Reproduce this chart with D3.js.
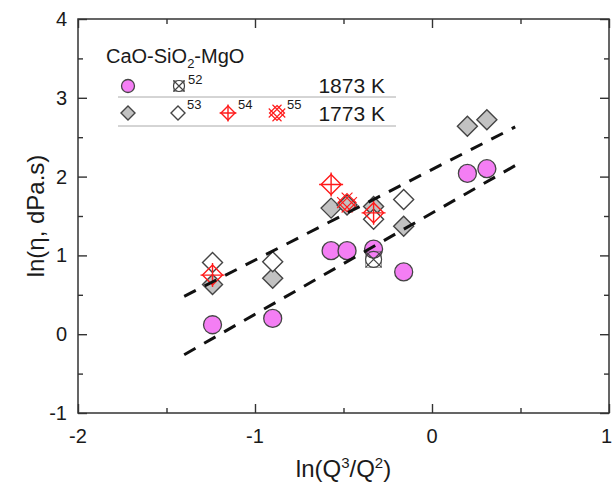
<script src="https://cdnjs.cloudflare.com/ajax/libs/d3/7.8.5/d3.min.js"></script>
<body style="margin:0;background:#fff">
<style>
  body { font-family: "Liberation Sans", Arial, Helvetica, sans-serif; }
  text { fill: #1a1a1a; }
</style>
<div id="chart"></div>
<script>
// data
var circ1873X = [-1.24, -0.90, -0.57, -0.48, -0.33, -0.16, 0.20, 0.31];
var circ1873Y = [0.12, 0.20, 1.06, 1.06, 1.08, 0.79, 2.04, 2.10];
var dia1773X = [-1.24, -0.90, -0.57, -0.48, -0.33, -0.16, 0.20, 0.31];
var dia1773Y = [0.63, 0.71, 1.60, 1.64, 1.62, 1.37, 2.64, 2.72];
var ref52X = [-0.33];
var ref52Y = [0.95];
var ref53X = [-1.24, -0.90, -0.33, -0.16];
var ref53Y = [0.91, 0.92, 1.46, 1.71];
var ref54X = [-1.24, -0.57, -0.33];
var ref54Y = [0.75, 1.90, 1.54];
var ref55X = [-0.48];
var ref55Y = [1.67];
var fitUpper = [[-1.40, 0.48], [0.47, 2.63]];
var fitLower = [[-1.40, -0.26], [0.47, 2.14]];
var xTicks = [-2, -1, 0, 1];
var yTicks = [-1, 0, 1, 2, 3, 4];

var W = 612, H = 491;
var margin = {top: 19, right: 3, bottom: 78, left: 78};
var width = W - margin.left - margin.right,
    height = H - margin.top - margin.bottom;

var svg = d3.select("#chart").append("svg")
    .attr("width", W).attr("height", H);
var g = svg.append("g")
    .attr("transform", "translate(" + margin.left + "," + margin.top + ")");

var x = d3.scaleLinear().domain([-2, 1]).range([0, width]);
var y = d3.scaleLinear().domain([-1, 4]).range([height, 0]);

var axisColor = "#333";

// frame with inward ticks on all four sides
function tickSide(axisFn, scale, ticks, minor, transform) {
  var a = g.append("g").attr("transform", transform);
  a.call(axisFn(scale).tickValues(minor).tickSize(-5).tickFormat(""));
  a.select(".domain").remove();
  var b = g.append("g").attr("transform", transform);
  b.call(axisFn(scale).tickValues(ticks).tickSize(-9).tickFormat(""));
  b.select(".domain").remove();
  g.selectAll(".tick line").attr("stroke", axisColor).attr("stroke-width", 1.4);
}
var xMinor = [-1.5, -0.5, 0.5];
var yMinor = [-0.5, 0.5, 1.5, 2.5, 3.5];
tickSide(d3.axisBottom, x, xTicks, xMinor, "translate(0," + height + ")");
tickSide(d3.axisTop, x, xTicks, xMinor, "translate(0,0)");
tickSide(d3.axisLeft, y, yTicks, yMinor, "translate(0,0)");
tickSide(d3.axisRight, y, yTicks, yMinor, "translate(" + width + ",0)");

g.append("rect")
  .attr("width", width).attr("height", height)
  .attr("fill", "none").attr("stroke", axisColor).attr("stroke-width", 1.5);

// tick labels (last one pinned to the page edge, as in the figure)
g.selectAll(".xl").data(xTicks).enter().append("text")
  .attr("x", function(d) { return d === 1 ? x(d) + 3 : x(d); })
  .attr("y", height + 30)
  .attr("text-anchor", function(d) { return d === 1 ? "end" : "middle"; })
  .style("font-size", "20px")
  .text(function(d) { return d; });
g.selectAll(".yl").data(yTicks).enter().append("text")
  .attr("x", -11)
  .attr("y", function(d) { return y(d) + 7; })
  .attr("text-anchor", "end")
  .style("font-size", "20px")
  .text(function(d) { return d; });

// axis titles
var xt = svg.append("text")
  .attr("x", margin.left + width / 2)
  .attr("y", 477)
  .attr("text-anchor", "middle")
  .style("font-size", "24px");
xt.append("tspan").text("ln(Q");
xt.append("tspan").attr("dy", -9).style("font-size", "15px").text("3");
xt.append("tspan").attr("dy", 9).text("/Q");
xt.append("tspan").attr("dy", -9).style("font-size", "15px").text("2");
xt.append("tspan").attr("dy", 9).text(")");

svg.append("text")
  .attr("transform", "translate(44," + (margin.top + height / 2) + ") rotate(-90)")
  .attr("text-anchor", "middle")
  .style("font-size", "24px")
  .text("ln(\u03b7, dPa.s)");

// marker shapes
var pink = "#f47ef4", grey = "#c2c2c2", edge = "#444", red = "#ff1a1a";

function diamondPath(r) {
  return "M0," + (-r) + "L" + r + ",0L0," + r + "L" + (-r) + ",0Z";
}
function drawCircle(sel, r) {
  sel.append("circle").attr("r", r)
    .attr("fill", pink).attr("stroke", edge).attr("stroke-width", 1.3);
}
function drawDiamond(sel, r, fill) {
  sel.append("path").attr("d", diamondPath(r))
    .attr("fill", fill).attr("stroke", edge).attr("stroke-width", 1.4);
}
function drawRef52(sel, r) {
  sel.append("circle").attr("r", r).attr("fill", "none")
    .attr("stroke", edge).attr("stroke-width", 1.2);
  sel.append("rect").attr("x", -r).attr("y", -r).attr("width", 2 * r).attr("height", 2 * r)
    .attr("fill", "none").attr("stroke", edge).attr("stroke-width", 0.8).attr("opacity", 0.6);
  sel.append("path").attr("d", "M" + (-r) + "," + (-r) + "L" + r + "," + r + "M" + r + "," + (-r) + "L" + (-r) + "," + r)
    .attr("stroke", edge).attr("stroke-width", 1.2);
}
function drawRef54(sel, r) {
  sel.append("path").attr("d", diamondPath(r)).attr("fill", "none")
    .attr("stroke", red).attr("stroke-width", 1.4);
  var e = r * 1.2;
  sel.append("path").attr("d", "M" + (-e) + ",0L" + e + ",0M0," + (-e) + "L0," + e)
    .attr("stroke", red).attr("stroke-width", 1.4);
}
function drawRef55(sel, r) {
  sel.append("path").attr("d", diamondPath(r)).attr("fill", "none")
    .attr("stroke", red).attr("stroke-width", 1.2);
  var e = r * 0.85, o = r * 0.25;
  sel.append("path")
    .attr("d", "M" + (-e - o) + "," + (-e + o) + "L" + (e - o) + "," + (e + o) +
               "M" + (-e + o) + "," + (-e - o) + "L" + (e + o) + "," + (e - o) +
               "M" + (e - o) + "," + (-e - o) + "L" + (-e - o) + "," + (e - o) +
               "M" + (e + o) + "," + (-e + o) + "L" + (-e + o) + "," + (e + o))
    .attr("stroke", red).attr("stroke-width", 1.1);
}

function plot(xs, ys, drawer) {
  xs.forEach(function(v, i) {
    var s = g.append("g").attr("transform", "translate(" + x(v) + "," + y(ys[i]) + ")");
    drawer(s);
  });
}

plot(dia1773X, dia1773Y, function(s) { drawDiamond(s, 10, grey); });
plot(ref53X, ref53Y, function(s) { drawDiamond(s, 10, "#fff"); });
plot(circ1873X, circ1873Y, function(s) { drawCircle(s, 9); });
plot(ref52X, ref52Y, function(s) { drawRef52(s, 8); });
plot(ref55X, ref55Y, function(s) { drawRef55(s, 9); });
plot(ref54X, ref54Y, function(s) { drawRef54(s, 10); });

// fitted lines
var line = d3.line().x(function(d) { return x(d[0]); }).y(function(d) { return y(d[1]); });
[fitUpper, fitLower].forEach(function(f) {
  g.append("path").attr("d", line(f))
    .attr("fill", "none").attr("stroke", "#111")
    .attr("stroke-width", 3).attr("stroke-dasharray", "13,10");
});

// legend
var leg = svg.append("g");
var lt = leg.append("text").attr("x", 106).attr("y", 63).style("font-size", "20px");
lt.append("tspan").text("CaO-SiO");
lt.append("tspan").attr("dy", 5).style("font-size", "13px").text("2");
lt.append("tspan").attr("dy", -5).text("-MgO");

function legSym(cx, cy, drawer) {
  drawer(leg.append("g").attr("transform", "translate(" + cx + "," + cy + ")"));
}
function sup(tx, ty, t) {
  leg.append("text").attr("x", tx).attr("y", ty).style("font-size", "13px").text(t);
}
legSym(128, 86, function(s) { drawCircle(s, 6.5); });
legSym(179, 86, function(s) { drawRef52(s, 5.5); });
sup(188, 84, "52");
leg.append("text").attr("x", 385).attr("y", 93).attr("text-anchor", "end")
  .style("font-size", "21px").text("1873 K");
leg.append("line").attr("x1", 118).attr("x2", 396).attr("y1", 97).attr("y2", 97)
  .attr("stroke", "#aaa").attr("stroke-width", 1);

legSym(128, 113, function(s) { drawDiamond(s, 7, grey); });
legSym(178, 113, function(s) { drawDiamond(s, 7, "#fff"); });
sup(187, 109, "53");
legSym(228, 113, function(s) { drawRef54(s, 7); });
sup(238, 109, "54");
legSym(277, 113, function(s) { drawRef55(s, 7.5); });
sup(287, 109, "55");
leg.append("text").attr("x", 385).attr("y", 121).attr("text-anchor", "end")
  .style("font-size", "21px").text("1773 K");
leg.append("line").attr("x1", 118).attr("x2", 396).attr("y1", 126).attr("y2", 126)
  .attr("stroke", "#aaa").attr("stroke-width", 1);
</script>
</body>
